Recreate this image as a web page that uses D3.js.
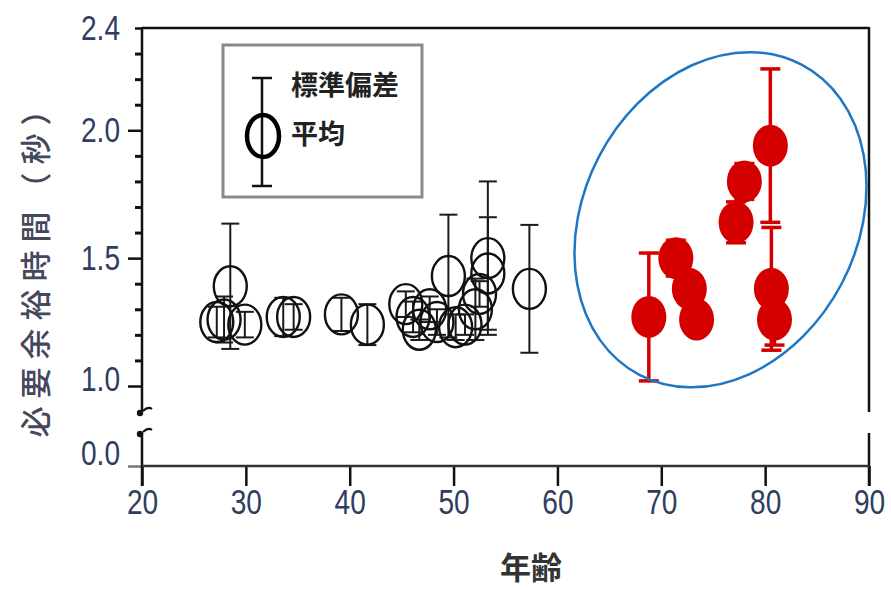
<!DOCTYPE html>
<html>
<head>
<meta charset=utf-8>
<title>必要余裕時間と年齢</title>
<style>
  body { margin: 0; background: #fff; }
  svg { display: block; }
</style>
</head>
<body>
<script src="https://d3js.org/d3.v7.min.js"></script>
<script>
// datos leidos de la figura
// grupo joven (circulos abiertos): edad, media y desviacion estandar
var youngAge  = [27.2, 27.9, 28.5, 29.9, 33.6, 34.6, 39.2, 41.7, 45.4, 46.1, 46.7, 47.7, 48.4, 49.5, 50.2, 51.1, 52.1, 52.5, 53.3, 53.3, 57.3];
var youngMean = [1.25, 1.26, 1.39, 1.24, 1.27, 1.27, 1.28, 1.24, 1.32, 1.27, 1.22, 1.30, 1.25, 1.43, 1.23, 1.24, 1.30, 1.36, 1.50, 1.44, 1.38];
var youngSd   = [0.06, 0.09, 0.245, 0.05, 0.075, 0.05, 0.065, 0.08, 0.05, 0.06, 0.04, 0.05, 0.05, 0.24, 0.05, 0.04, 0.12, 0.05, 0.30, 0.22, 0.25];

// grupo mayor (circulos rojos)
var oldAge  = [68.8, 71.4, 72.7, 73.4, 77.2, 78.0, 80.5, 80.6, 80.9];
var oldMean = [1.27, 1.50, 1.38, 1.26, 1.64, 1.80, 1.94, 1.38, 1.26];
var oldSd   = [0.25, 0.07, 0.06, 0.05, 0.08, 0.07, 0.30, 0.24, 0.10];

// ejes
var xTicks = [20, 30, 40, 50, 60, 70, 80, 90];
var yTicksMajor = [0.0, 1.0, 1.5, 2.0, 2.4];
var yTickLabels = ["0.0", "1.0", "1.5", "2.0", "2.4"];
var yTicksMinor = [1.1, 1.2, 1.3, 1.4, 1.6, 1.7, 1.8, 1.9, 2.1, 2.2, 2.3];
var yLabel = "必要余裕時間（秒）";
var xLabel = "年齢";
var legendLabels = ["標準偏差", "平均"];

// elipse que rodea al grupo mayor (centro en unidades de datos)
var ringAge = 75.7, ringMean = 1.65;

var W = 891, H = 589;
var plotLeft = 142, plotRight = 869, plotTop = 28, plotBottom = 466;
var tickFont = "'Liberation Sans', Arial, sans-serif";
var squeeze = 0.78;   // los numeros del original son estrechos
var cjkFont = "'Noto Sans CJK JP', 'Noto Sans CJK SC', sans-serif";
var tickColor = "#2f3d60";

var svg = d3.select("body").append("svg")
    .attr("width", W)
    .attr("height", H);
svg.append("rect").attr("width", W).attr("height", H).attr("fill", "#fff");

var x = d3.scaleLinear().domain([20, 90]).range([plotLeft, plotRight]);
// escala a trozos: el tramo 0.0 - 1.0 esta comprimido (eje cortado)
var y = d3.scaleLinear().domain([0, 1.0, 2.4]).range([plotBottom, 386, plotTop]);

// eje X
var gx = svg.append("g")
    .attr("transform", "translate(0," + plotBottom + ")")
    .call(d3.axisBottom(x).tickValues(xTicks).tickSize(20).tickPadding(2).tickSizeOuter(0));
gx.select(".domain").remove();
gx.selectAll(".tick line").attr("stroke", "#111").attr("stroke-width", 2.5);
gx.selectAll(".tick text")
    .attr("fill", tickColor)
    .attr("transform", "scale(" + squeeze + ",1)")
    .style("font-family", tickFont)
    .style("font-size", "36px");

// eje Y: marcas principales
var gy = svg.append("g")
    .attr("transform", "translate(" + plotLeft + ",0)")
    .call(d3.axisLeft(y).tickValues(yTicksMajor).tickSize(14).tickPadding(8)
        .tickFormat(function (d, i) { return yTickLabels[i]; }));
gy.select(".domain").remove();
gy.selectAll(".tick line")
    .attr("stroke", function (d) { return d === 0 ? "#777" : "#111"; })
    .attr("stroke-width", 2.5)
    .attr("x2", function (d) { return d === 2.4 ? -7 : -14; });
gy.selectAll(".tick text")
    .attr("fill", tickColor)
    .attr("x", -22 / squeeze)
    .attr("transform", function (d) {
        var shift = d === 0 ? -13 : (d === 1.0 ? -7 : 0);
        return "translate(0," + shift + ") scale(" + squeeze + ",1)";
    })
    .style("font-family", tickFont)
    .style("font-size", "36px");

// eje Y: marcas menores
var gm = svg.append("g")
    .attr("transform", "translate(" + plotLeft + ",0)")
    .call(d3.axisLeft(y).tickValues(yTicksMinor).tickSize(7).tickFormat(""));
gm.select(".domain").remove();
gm.selectAll(".tick line").attr("stroke", "#111").attr("stroke-width", 3);

// marco con el corte del eje
var breakHi = 412, breakLo = 433;
var frame = svg.append("g").attr("stroke", "#111").attr("stroke-width", 2.5).attr("fill", "none");
frame.append("line").attr("x1", plotLeft).attr("x2", plotLeft).attr("y1", plotTop - 1).attr("y2", breakHi);
frame.append("line").attr("x1", plotLeft).attr("x2", plotLeft).attr("y1", breakLo).attr("y2", plotBottom + 20);
frame.append("line").attr("x1", plotRight).attr("x2", plotRight).attr("y1", plotTop - 1).attr("y2", breakHi);
frame.append("line").attr("x1", plotRight).attr("x2", plotRight).attr("y1", breakLo).attr("y2", plotBottom + 20);
frame.append("line").attr("x1", plotLeft).attr("x2", plotRight).attr("y1", plotTop).attr("y2", plotTop);
frame.append("line").attr("x1", plotLeft).attr("x2", plotRight).attr("y1", plotBottom).attr("y2", plotBottom).attr("stroke", "#333");

// simbolos del corte
[breakHi, breakLo].forEach(function (by) {
    svg.append("circle").attr("cx", plotLeft - 2).attr("cy", by + 1).attr("r", 3.2).attr("fill", "#111");
    svg.append("path")
        .attr("d", "M" + (plotLeft + 1) + "," + (by - 1) + " q5,-5 9,-2")
        .attr("stroke", "#111").attr("stroke-width", 2).attr("fill", "none");
});

// leyenda
var lg = svg.append("g");
lg.append("rect").attr("x", 223).attr("y", 45).attr("width", 199).attr("height", 152)
    .attr("fill", "#fff").attr("stroke", "#8a8a8a").attr("stroke-width", 3);
lg.append("line").attr("x1", 262).attr("x2", 262).attr("y1", 78).attr("y2", 186).attr("stroke", "#111").attr("stroke-width", 2.5);
lg.append("line").attr("x1", 252).attr("x2", 272).attr("y1", 78).attr("y2", 78).attr("stroke", "#111").attr("stroke-width", 2.5);
lg.append("line").attr("x1", 252).attr("x2", 272).attr("y1", 186).attr("y2", 186).attr("stroke", "#111").attr("stroke-width", 2.5);
lg.append("ellipse").attr("cx", 263).attr("cy", 136).attr("rx", 16).attr("ry", 21)
    .attr("fill", "none").attr("stroke", "#000").attr("stroke-width", 4.5);
lg.selectAll("text.lab").data(legendLabels).enter().append("text")
    .attr("x", 291)
    .attr("y", function (d, i) { return 83 + i * 49; })
    .attr("dominant-baseline", "central")
    .attr("fill", "#222")
    .style("font-family", cjkFont)
    .style("font-weight", 700)
    .style("font-size", "27px")
    .text(function (d) { return d; });

// barras de error
function errorBars(ages, means, sds, color, width, cap) {
    var g = svg.append("g").attr("stroke", color).attr("stroke-width", width);
    ages.forEach(function (a, i) {
        var cx = x(a), y1 = y(means[i] + sds[i]), y2 = y(means[i] - sds[i]);
        g.append("line").attr("x1", cx).attr("x2", cx).attr("y1", y1).attr("y2", y2);
        g.append("line").attr("x1", cx - cap).attr("x2", cx + cap).attr("y1", y1).attr("y2", y1);
        g.append("line").attr("x1", cx - cap).attr("x2", cx + cap).attr("y1", y2).attr("y2", y2);
    });
}

errorBars(youngAge, youngMean, youngSd, "#1a1a1a", 2, 9);

svg.append("g").selectAll("ellipse")
    .data(youngAge).enter().append("ellipse")
    .attr("cx", function (d) { return x(d); })
    .attr("cy", function (d, i) { return y(youngMean[i]); })
    .attr("rx", 16.5).attr("ry", 20)
    .attr("fill", "none")
    .attr("stroke", "#111")
    .attr("stroke-width", 2.4);

errorBars(oldAge, oldMean, oldSd, "#d40000", 3.5, 10);

svg.append("g").selectAll("ellipse")
    .data(oldAge).enter().append("ellipse")
    .attr("cx", function (d) { return x(d); })
    .attr("cy", function (d, i) { return y(oldMean[i]); })
    .attr("rx", 17.5).attr("ry", 21)
    .attr("fill", "#d40000");

// elipse azul
svg.append("ellipse")
    .attr("transform", "translate(" + x(ringAge) + "," + y(ringMean) + ") rotate(27.6)")
    .attr("rx", 137).attr("ry", 175)
    .attr("fill", "none")
    .attr("stroke", "#1f77c4")
    .attr("stroke-width", 2.5);

// titulos de ejes
svg.append("text")
    .attr("x", 531).attr("y", 565)
    .attr("text-anchor", "middle")
    .attr("dominant-baseline", "central")
    .attr("fill", "#333")
    .style("font-family", cjkFont)
    .style("font-weight", 700)
    .style("font-size", "31px")
    .text(xLabel);

svg.append("text")
    .attr("transform", "translate(33,262) rotate(-90)")
    .attr("text-anchor", "middle")
    .attr("dominant-baseline", "central")
    .attr("fill", "#45485c")
    .style("font-family", cjkFont)
    .style("font-weight", 500)
    .style("font-size", "31px")
    .style("letter-spacing", "8px")
    .text(yLabel);
</script>
</body>
</html>
